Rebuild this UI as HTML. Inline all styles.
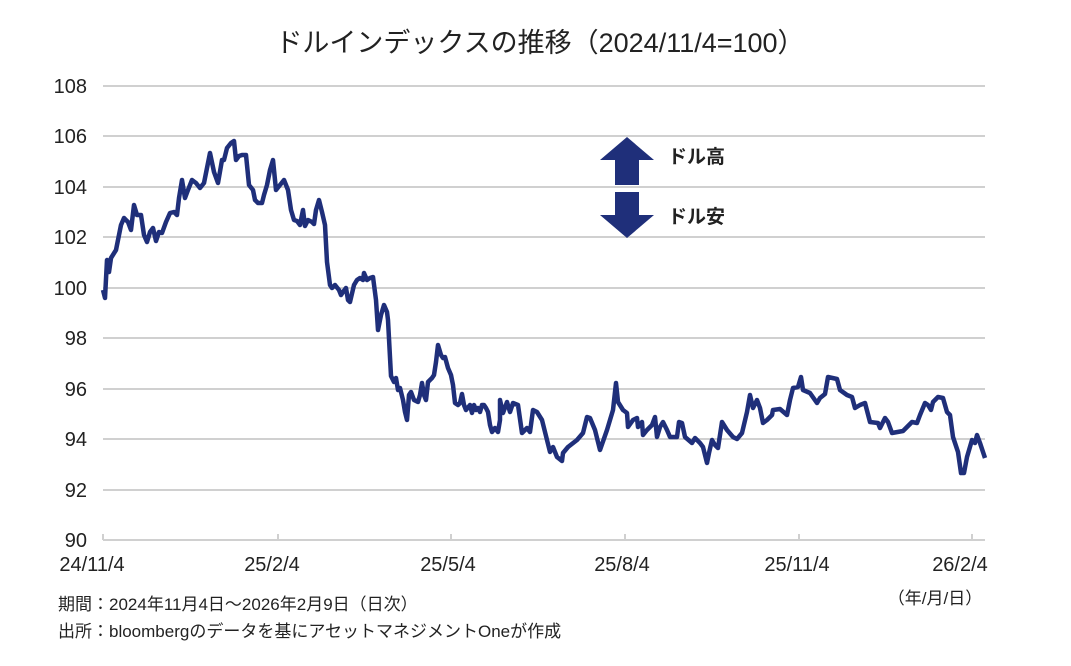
<!DOCTYPE html><html><head><meta charset="utf-8"><style>
body{margin:0;background:#fff;width:1071px;height:661px;overflow:hidden}
svg text{font-family:"Liberation Sans","Noto Sans CJK JP",sans-serif;fill:#222}
</style></head><body>
<svg width="1071" height="661" viewBox="0 0 1071 661">
<text x="540" y="52" font-size="27" text-anchor="middle">ドルインデックスの推移（2024/11/4=100）</text>
<g stroke="#d0d0d0" stroke-width="2">
<line x1="103" x2="985" y1="86" y2="86"/><line x1="103" x2="985" y1="136" y2="136"/><line x1="103" x2="985" y1="187" y2="187"/><line x1="103" x2="985" y1="237" y2="237"/><line x1="103" x2="985" y1="288" y2="288"/><line x1="103" x2="985" y1="338" y2="338"/><line x1="103" x2="985" y1="389" y2="389"/><line x1="103" x2="985" y1="439" y2="439"/><line x1="103" x2="985" y1="490" y2="490"/><line x1="103" x2="985" y1="540" y2="540"/>
<line x1="103" x2="103" y1="534" y2="540"/><line x1="278" x2="278" y1="534" y2="540"/><line x1="451" x2="451" y1="534" y2="540"/><line x1="625" x2="625" y1="534" y2="540"/><line x1="799" x2="799" y1="534" y2="540"/><line x1="972" x2="972" y1="534" y2="540"/>
</g>
<g font-size="20" text-anchor="end">
<text x="87" y="93">108</text><text x="87" y="143">106</text><text x="87" y="194">104</text><text x="87" y="244">102</text><text x="87" y="295">100</text><text x="87" y="345">98</text><text x="87" y="396">96</text><text x="87" y="446">94</text><text x="87" y="497">92</text><text x="87" y="547">90</text>
</g>
<g font-size="20" text-anchor="middle">
<text x="92" y="571">24/11/4</text><text x="272" y="571">25/2/4</text><text x="448" y="571">25/5/4</text><text x="622" y="571">25/8/4</text><text x="797" y="571">25/11/4</text><text x="960" y="571">26/2/4</text>
</g>
<text x="935" y="604" font-size="17" text-anchor="middle">（年/月/日）</text>
<text x="58" y="610" font-size="17">期間：2024年11月4日～2026年2月9日（日次）</text>
<text x="58" y="637" font-size="17">出所：bloombergのデータを基にアセットマネジメントOneが作成</text>
<polygon points="627,137 654,160 639,160 639,185 615,185 615,160 600,160" fill="#1f2f7a"/>
<polygon points="627,238 654,215 639,215 639,192 615,192 615,215 600,215" fill="#1f2f7a"/>
<text x="668" y="163" font-size="19" font-weight="bold">ドル高</text>
<text x="668" y="223" font-size="19" font-weight="bold">ドル安</text>
<polyline fill="none" stroke="#1f2f7a" stroke-width="4.5" stroke-linejoin="round" points="103,290 105,298 107,260 109,272 111,258 116,250 118,240 121,225 124,218 128,222 131,230 134,205 137,215 141,215 144,235 147,242 150,232 153,228 156,241 159,232 162,233 166,222 170,213 174,212 177,215 179,198 182,180 185,198 188,190 192,180 196,183 200,188 204,183 207,168 210,153 214,172 218,183 222,160 224,160 227,148 231,143 234,141 236,160 239,156 242,155 246,155 249,185 253,190 255,200 258,203 262,203 264,195 267,185 270,170 273,160 276,190 280,185 284,180 288,190 291,210 294,220 297,221 300,225 303,210 305,226 308,220 312,222 314,224 316,210 319,200 322,212 325,225 327,262 330,285 332,288 335,285 339,290 341,295 343,292 346,288 348,300 350,302 354,285 357,280 360,278 363,280 364,273 367,280 370,278 373,277 376,300 378,330 381,315 384,305 387,312 388,320 391,376 394,382 396,378 398,390 400,388 403,400 405,412 407,420 409,395 411,392 414,400 418,402 420,395 422,383 424,395 426,400 428,382 432,378 434,375 436,362 438,345 441,355 443,358 445,357 448,368 451,375 453,385 455,403 458,405 460,403 462,394 464,405 466,410 470,405 472,413 474,405 476,410 478,408 480,412 482,405 484,405 486,408 488,412 490,425 492,432 495,428 498,432 500,420 500,400 503,413 507,402 510,412 513,403 518,405 522,433 527,428 530,432 533,410 537,412 542,420 547,440 550,452 553,447 557,457 562,461 563,453 568,447 577,440 583,433 587,417 590,418 595,430 600,450 607,430 613,410 616,383 618,402 623,410 627,413 628,427 633,420 637,418 638,427 642,422 643,435 647,430 652,425 655,417 657,437 660,427 663,422 667,430 670,437 677,437 679,422 682,423 685,437 692,443 695,438 700,443 703,447 707,463 709,453 712,440 715,445 718,448 722,422 727,430 733,437 737,439 742,433 747,412 750,395 753,408 757,400 760,408 763,423 767,420 772,415 773,410 780,409 787,415 790,400 793,388 798,387 801,377 803,390 810,393 817,403 820,398 825,394 828,377 837,379 840,390 847,395 852,397 855,408 860,405 865,403 870,422 878,423 880,428 885,418 888,422 892,433 903,431 907,427 912,422 917,423 920,415 925,403 928,405 931,410 933,402 938,397 943,398 947,412 950,415 953,437 958,452 961,473 964,473 967,457 972,440 975,443 977,435 980,443 985,458"/>
</svg>
</body></html>
